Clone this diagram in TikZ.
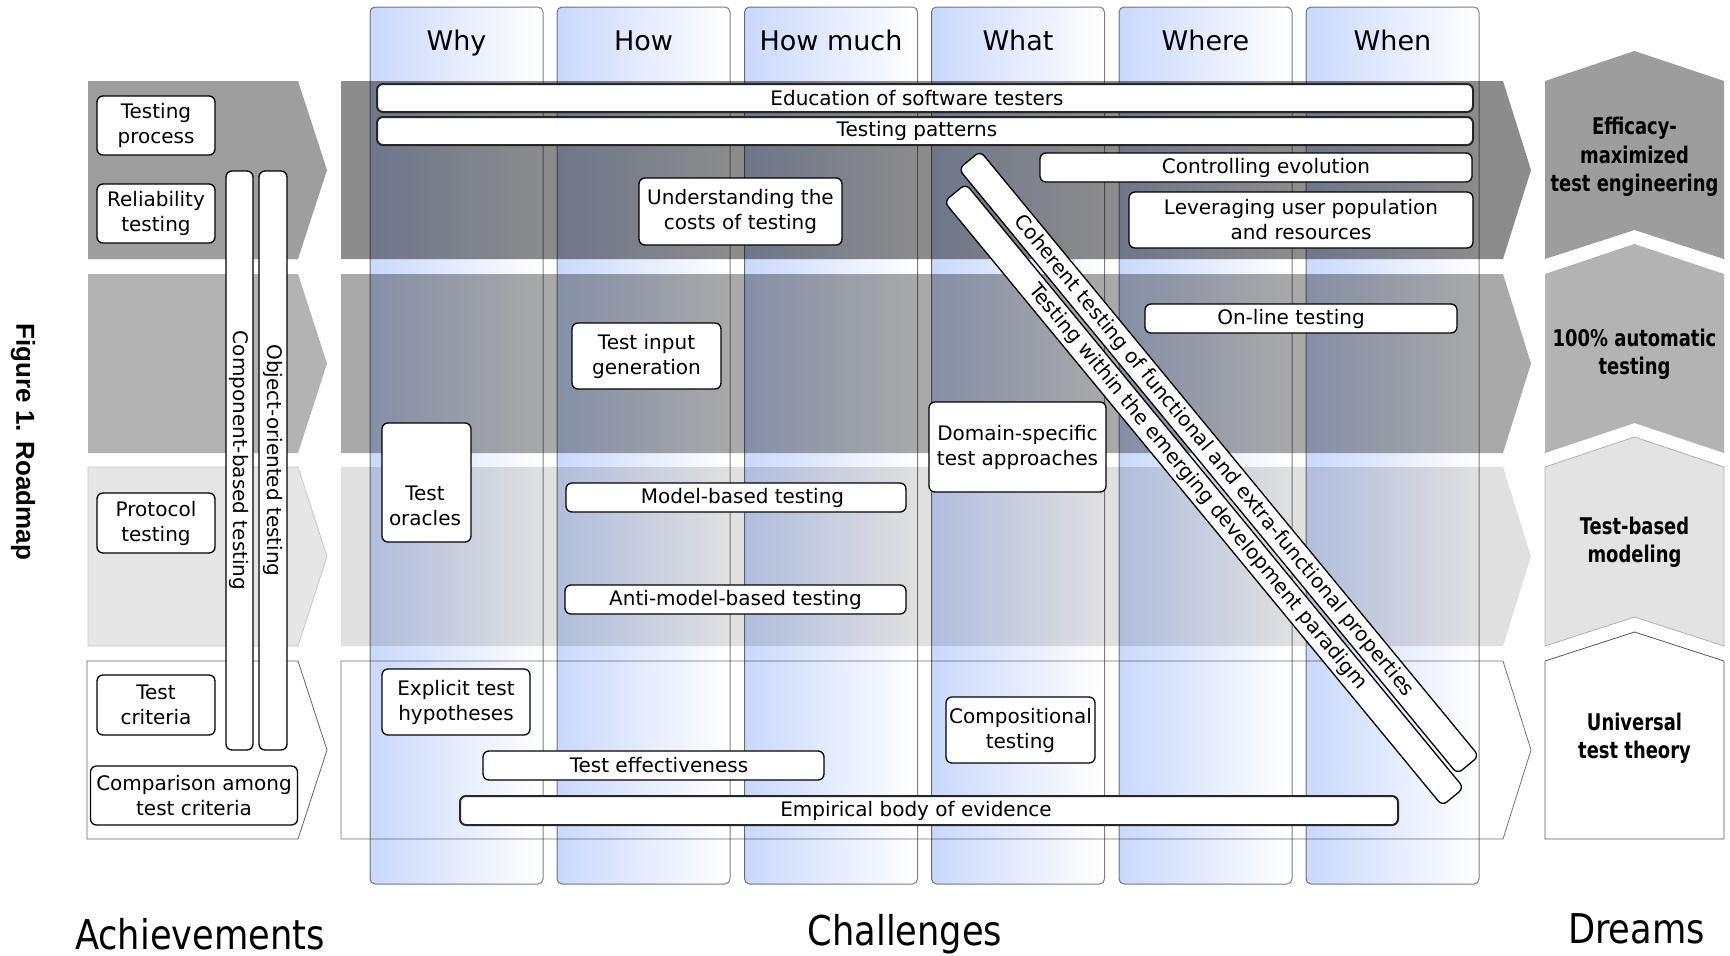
\documentclass[tikz,border=0pt]{standalone}
\usepackage{fontspec}
\setmainfont{DejaVu Sans}
\newfontfamily\dreamfont[FakeStretch=0.78]{DejaVu Sans}
\newfontfamily\bigfont[FakeStretch=0.86]{DejaVu Sans}
\newfontfamily\figfont{Liberation Sans}
\definecolor{leftA}{HTML}{9E9E9E}
\definecolor{leftB}{HTML}{B3B3B3}
\definecolor{leftC}{HTML}{E6E6E6}
\definecolor{bandA}{HTML}{8C8C8C}
\definecolor{bandB}{HTML}{A9A9A9}
\definecolor{bandC}{HTML}{E0E0E0}
\definecolor{dreamA}{HTML}{9D9D9D}
\definecolor{dreamB}{HTML}{B3B3B3}
\definecolor{dreamC}{HTML}{E3E3E3}
\definecolor{colblue}{HTML}{C9D8FC}
\tikzset{
  box/.style={draw=black, line width=1.3pt, fill=white, rounded corners=6pt,
    inner sep=0pt, align=center, font=\fontsize{20}{25}\selectfont},
  longbox/.style={box, draw=black!85, line width=2pt},
  wh/.style 2 args={minimum width=#1pt, minimum height=#2pt},
  hdr/.style={anchor=base, font=\fontsize{27}{30}\selectfont},
  dreamtxt/.style={align=center, inner sep=0pt, font=\dreamfont\bfseries\fontsize{23}{28.5}\selectfont},
  bigtxt/.style={anchor=base, inner sep=0pt, font=\bigfont\fontsize{41}{44}\selectfont},
  colbox/.style={draw=black!50, line width=1pt, rounded corners=5pt, left color=colblue, right color=white},
}
\begin{document}
\begin{tikzpicture}[x=1pt, y=-1pt]
\useasboundingbox (0,0) rectangle (1730,956);
\fill[white] (0,0) rectangle (1730,956);
% challenge bands
\fill[bandA] (341,81) -- (1503,81) -- (1531,170) -- (1503,259) -- (341,259) -- cycle;
\fill[bandB] (341,274) -- (1503,274) -- (1531,363.5) -- (1503,453) -- (341,453) -- cycle;
\fill[bandC] (341,467) -- (1503,467) -- (1531,556.5) -- (1503,646) -- (341,646) -- cycle;
\draw[black!55, line width=0.8pt, fill=white] (341,661) -- (1503,661) -- (1531,750) -- (1503,839) -- (341,839) -- cycle;
% achievement arrows
\fill[leftA] (88,81) -- (298,81) -- (327,170) -- (298,259) -- (88,259) -- cycle;
\fill[leftB] (88,274) -- (298,274) -- (327,363.5) -- (298,453) -- (88,453) -- cycle;
\draw[black!22, line width=0.8pt, fill=leftC] (88,467) -- (298,467) -- (327,556.5) -- (298,646) -- (88,646) -- cycle;
\draw[black!60, line width=0.8pt, fill=white] (87,661) -- (298,661) -- (327,750) -- (298,839) -- (87,839) -- cycle;
% dreams
\fill[dreamA] (1545,81) -- (1634.5,51) -- (1724,81) -- (1724,259) -- (1634.5,230) -- (1545,259) -- cycle;
\fill[dreamB] (1545,274) -- (1634.5,244) -- (1724,274) -- (1724,453) -- (1634.5,423) -- (1545,453) -- cycle;
\draw[black!30, line width=0.8pt, fill=dreamC] (1545,467) -- (1634.5,437) -- (1724,467) -- (1724,646) -- (1634.5,617) -- (1545,646) -- cycle;
\draw[black!65, line width=0.8pt, fill=white] (1545,661) -- (1634.5,632) -- (1724,661) -- (1724,839) -- (1545,839) -- cycle;
% columns (multiplied over the bands)
\begin{scope}[blend mode=multiply]
\foreach \cx in {370,557,744.5,931.5,1119,1306}{
  \path[colbox] (\cx,7) rectangle (\cx+173,884);
}
\end{scope}
\node[hdr] (hwhy) at (456.5,50) {Why};
\node[hdr] (hhow) at (643.5,50) {How};
\node[hdr] (hmuch) at (831,50) {How much};
\node[hdr] (hwhat) at (1018,50) {What};
\node[hdr] (hwhere) at (1205.5,50) {Where};
\node[hdr] (hwhen) at (1392.5,50) {When};
% achievements
\node[box, wh={118}{59}] (tproc) at (156,125.5) {Testing\\process};
\node[box, wh={118}{59}] (relt) at (156,213.5) {Reliability\\testing};
\node[box, wh={118}{60}] (prot) at (156,523) {Protocol\\testing};
\node[box, wh={118}{60}] (tcrit) at (156,705) {Test\\criteria};
\node[box, wh={207}{59}] (comp) at (194,795.5) {Comparison among\\test criteria};
\node[box, rotate=-90, wh={579}{27}] (cbt) at (239.5,460.5) {Component-based testing};
\node[box, rotate=-90, wh={579}{28}] (oot) at (273,460.5) {Object-oriented testing};
% challenges
\node[longbox, wh={1096}{28}] (edu) at (925,98) {Education of software testers\hspace*{16pt}};
\node[longbox, wh={1096}{28}] (pat) at (925,131) {Testing patterns\hspace*{16pt}};
\node[box, wh={432}{29}] (ctrl) at (1256,167.5) {\hspace*{20pt}Controlling evolution};
\node[box, wh={344}{56}] (lev) at (1301,220) {Leveraging user population\\and resources};
\node[box, wh={203}{67}] (cost) at (740.5,211.5) {Understanding the\\costs of testing};
\node[box, wh={312}{29}] (online) at (1301,318.5) {On-line testing\hspace*{20pt}};
\node[box, wh={149}{66}] (tig) at (646.5,356) {Test input\\generation};
\node[box, wh={89}{119}] (oracle) at (426.5,482.5) {};
\node[align=center, inner sep=0pt, font=\fontsize{20}{25}\selectfont] (oracletxt) at (425,506) {Test\\oracles};
\node[box, wh={177}{90}] (dom) at (1017.5,447) {Domain-specific\\test approaches};
\node[box, wh={340}{29}] (mbt) at (736,497.5) {\hspace*{13pt}Model-based testing};
\node[box, wh={341}{29}] (ambt) at (735.5,599.5) {Anti-model-based testing};
\node[box, wh={148}{66}] (eth) at (456,702) {Explicit test\\hypotheses};
\node[box, wh={341}{29}] (teff) at (653.5,765.5) {\hspace*{11pt}Test effectiveness};
\node[box, wh={149}{66}] (compt) at (1020.5,730) {Compositional\\testing};
\node[longbox, wh={938}{29}] (emp) at (929,810.5) {Empirical body of evidence\hspace*{26pt}};
\node[box, rotate=-50.5, wh={784}{28}] (coh) at (1218.8,462.5) {Coherent testing of functional and extra-functional properties\hspace*{16pt}};
\node[box, rotate=-50.5, wh={783}{28}] (emer) at (1204,494.8) {Testing within the emerging development paradigm\hspace*{20pt}};
% dreams
\node[dreamtxt] (d1) at (1634.5,157) {Efficacy-\\maximized\\test engineering};
\node[dreamtxt] (d2) at (1634.5,354) {100\% automatic\\testing};
\node[dreamtxt] (d3) at (1634.5,542) {Test-based\\modeling};
\node[dreamtxt] (d4) at (1634.5,738) {Universal\\test theory};
% bottom labels
\node[bigtxt] (lach) at (200,949) {Achievements};
\node[bigtxt] (lcha) at (905,945) {Challenges};
\node[bigtxt] (ldre) at (1636.5,943) {Dreams};
\node[rotate=-90, inner sep=0pt, font=\figfont\bfseries\fontsize{26}{30}\selectfont] (fig) at (23,442) {Figure 1. Roadmap};
\end{tikzpicture}
\end{document}
